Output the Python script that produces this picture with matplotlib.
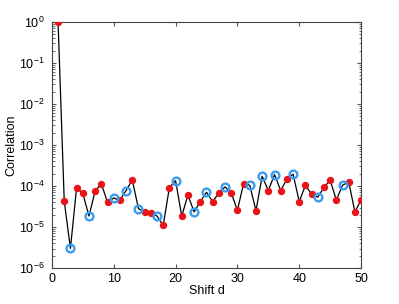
import numpy as np
import matplotlib.pyplot as plt
from matplotlib.ticker import LogLocator, NullFormatter

plt.rcParams['font.family'] = ['Liberation Sans', 'DejaVu Sans']

# shift d = 1..50, log10 of |correlation|
shift = np.arange(1, 51)
log_corr = [0.0, -4.37, -5.52, -4.04, -4.18, -4.73, -4.12, -3.94, -4.40, -4.29,
            -4.35, -4.11, -3.85, -4.55, -4.63, -4.65, -4.73, -4.96, -4.04, -3.87,
            -4.73, -4.22, -4.63, -4.38, -4.15, -4.38, -4.17, -4.02, -4.17, -4.59,
            -3.94, -3.98, -4.60, -3.76, -4.11, -3.72, -4.11, -3.83, -3.71, -4.38,
            -3.98, -4.20, -4.27, -4.03, -3.86, -4.34, -3.98, -3.90, -4.63, -4.34]
# shifts drawn as blue open circles (negative sign)
negative = [3, 6, 10, 12, 14, 17, 20, 23, 25, 28, 32, 34, 36, 39, 43, 47]

corr = 10.0 ** np.array(log_corr)
is_neg = np.isin(shift, negative)

fig = plt.figure(figsize=(3.99, 3.04), dpi=100)
ax = fig.add_axes([0.130, 0.118, 0.775, 0.810])

ax.plot(shift, corr, color='black', lw=0.9, zorder=2)
ax.plot(shift[~is_neg], corr[~is_neg], 'o', ms=4.3, color='#e8141a',
        mec='#e8141a', zorder=3)
ax.plot(shift[is_neg], corr[is_neg], 'o', ms=5.6, mfc='none',
        mec='#3a9cf0', mew=1.7, zorder=3)

ax.set_yscale('log')
ax.set_xlim(0, 50)
ax.set_ylim(1e-6, 1)
ax.set_xticks([0, 10, 20, 30, 40, 50])
ax.set_yticks([1e-6, 1e-5, 1e-4, 1e-3, 1e-2, 1e-1, 1])
ax.yaxis.set_minor_locator(LogLocator(base=10, subs=np.arange(2, 10)))
ax.yaxis.set_minor_formatter(NullFormatter())
ax.tick_params(which='both', direction='in', top=True, right=True,
               labelsize=9, color='#555555')
ax.tick_params(which='major', length=3)
ax.tick_params(which='minor', length=1.8)
ax.tick_params(axis='y', pad=5)
for s in ax.spines.values():
    s.set_color('#444444')
    s.set_linewidth(0.8)

ax.set_xlabel('Shift d', fontsize=9, labelpad=0)
ax.set_ylabel('Correlation', fontsize=9, labelpad=1)

fig.savefig('out.png', dpi=100)
